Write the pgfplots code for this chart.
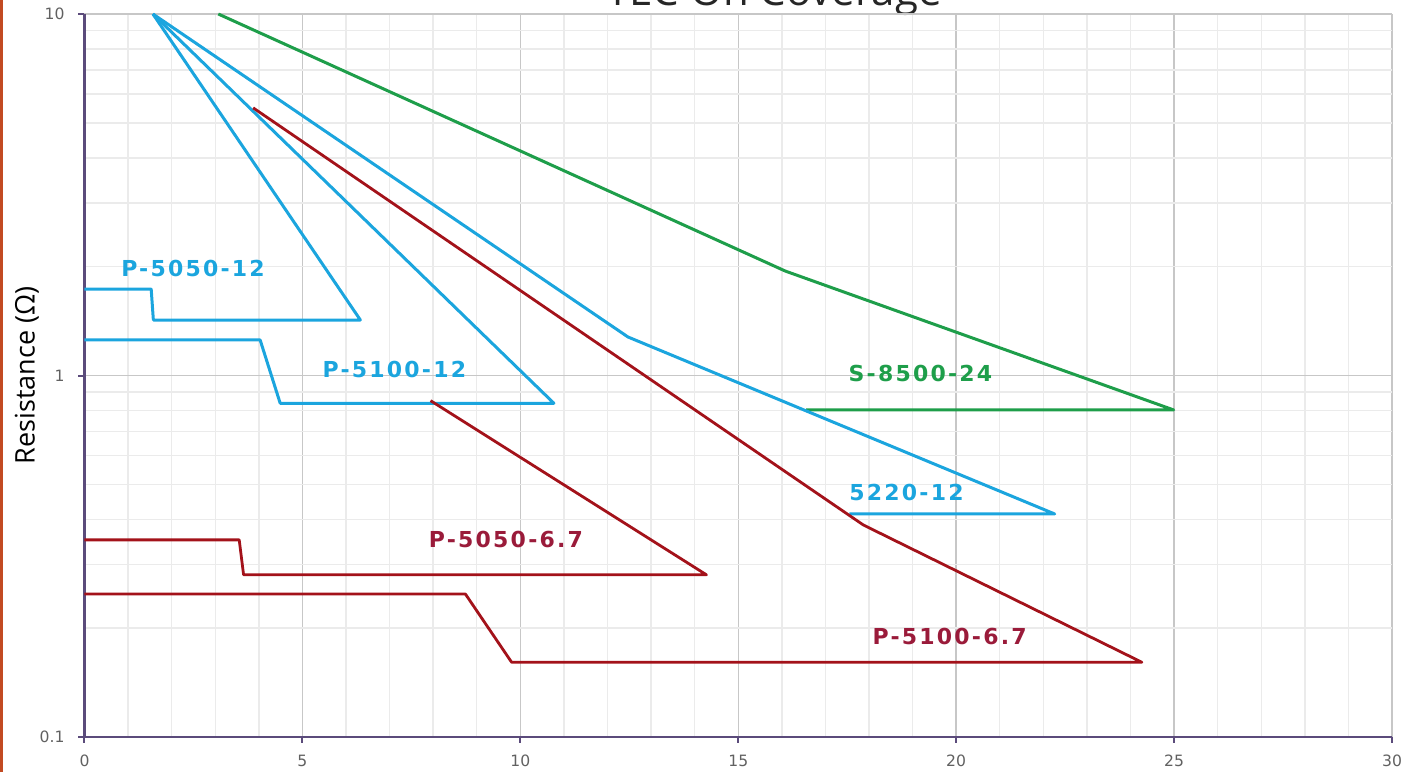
\documentclass[border=0pt]{standalone}
\usepackage{pgfplots}
\pgfplotsset{compat=1.18}
\usepackage{fontspec}
\setmainfont{DejaVu Sans}
\newfontfamily\lblfont[LetterSpace=10]{DejaVu Sans Bold}
\newfontfamily\axfont{Open Sans}
\definecolor{cblue}{HTML}{1BA5DE}
\definecolor{cgreen}{HTML}{1E9E4A}
\definecolor{cred}{HTML}{A3121A}
\definecolor{credtxt}{HTML}{9A1B3A}
\definecolor{axpurple}{HTML}{5B4B7B}
\definecolor{slideorange}{HTML}{C24A22}
\begin{document}
\begin{tikzpicture}
\useasboundingbox (0,0) rectangle (709pt,386pt);
\fill[slideorange] (0,0) rectangle (1.6pt,386pt);
\node[anchor=base, font=\axfont\fontsize{21pt}{25pt}\selectfont, text=black!85] at (387pt,383pt) {TEC On Coverage};
\begin{axis}[
  at={(42.25pt,17.5pt)}, anchor=south west,
  scale only axis, width=653.75pt, height=361.5pt,
  xmin=0, xmax=30, ymin=0.1, ymax=10, ymode=log,
  axis x line*=bottom, axis y line*=left,
  axis line style={-, draw=axpurple, line width=1.1pt},
  xtick={0,5,...,30}, minor x tick num=4,
  ytick={0.1,1,10}, yticklabels={0.1,1,10},
  grid=both,
  major grid style={draw=black!22, line width=0.7pt},
  minor grid style={draw=black!8, line width=0.7pt},
  tick align=outside, major tick length=3pt, minor tick length=0pt,
  tick style={draw=axpurple, line width=1pt},
  ticklabel style={font=\fontsize{7.8pt}{9pt}\selectfont, text=black!62},
  /pgf/number format/assume math mode=true,
  xticklabel style={yshift=-2.5pt},
  yticklabel style={xshift=-3.5pt},
  ylabel={Resistance (Ω)},
  ylabel style={at={(axis description cs:-0.0440,0.5)}, anchor=center, font=\axfont\fontsize{13.5pt}{16pt}\selectfont, text=black},
  clip=false,
]
% S-8500-24
\addplot[cgreen, line width=1.5pt, line join=round] coordinates {(3.07,10) (16.08,1.945) (24.99,0.803) (16.56,0.803)};
% P-5050-12
\addplot[cblue, line width=1.5pt, line join=round] coordinates {(0,1.735) (1.53,1.735) (1.58,1.424) (6.33,1.424) (1.57,10)};
% P-5100-12
\addplot[cblue, line width=1.5pt, line join=round] coordinates {(0,1.254) (4.03,1.254) (4.49,0.838) (10.77,0.838) (1.57,10)};
% 5220-12
\addplot[cblue, line width=1.5pt, line join=round] coordinates {(17.55,0.414) (22.26,0.414) (12.47,1.278) (1.57,10)};
% P-5100-6.7
\addplot[cred, line width=1.4pt, line join=round] coordinates {(0,0.2486) (8.74,0.2486) (9.8,0.161) (24.26,0.161) (17.87,0.386) (3.87,5.5)};
% P-5050-6.7
\addplot[cred, line width=1.4pt, line join=round] coordinates {(0,0.351) (3.55,0.351) (3.65,0.281) (14.27,0.281) (7.94,0.852)};
\node[text=cblue, font=\lblfont\fontsize{11pt}{13pt}\selectfont] at (axis cs:2.49,1.98) {P-5050-12};
\node[text=cblue, font=\lblfont\fontsize{11pt}{13pt}\selectfont] at (axis cs:7.11,1.042) {P-5100-12};
\node[text=cgreen, font=\lblfont\fontsize{11pt}{13pt}\selectfont] at (axis cs:19.18,1.01) {S-8500-24};
\node[text=cblue, font=\lblfont\fontsize{11pt}{13pt}\selectfont] at (axis cs:18.86,0.476) {5220-12};
\node[text=credtxt, font=\lblfont\fontsize{11pt}{13pt}\selectfont] at (axis cs:9.67,0.353) {P-5050-6.7};
\node[text=credtxt, font=\lblfont\fontsize{11pt}{13pt}\selectfont] at (axis cs:19.85,0.190) {P-5100-6.7};
\end{axis}
\end{tikzpicture}
\end{document}
